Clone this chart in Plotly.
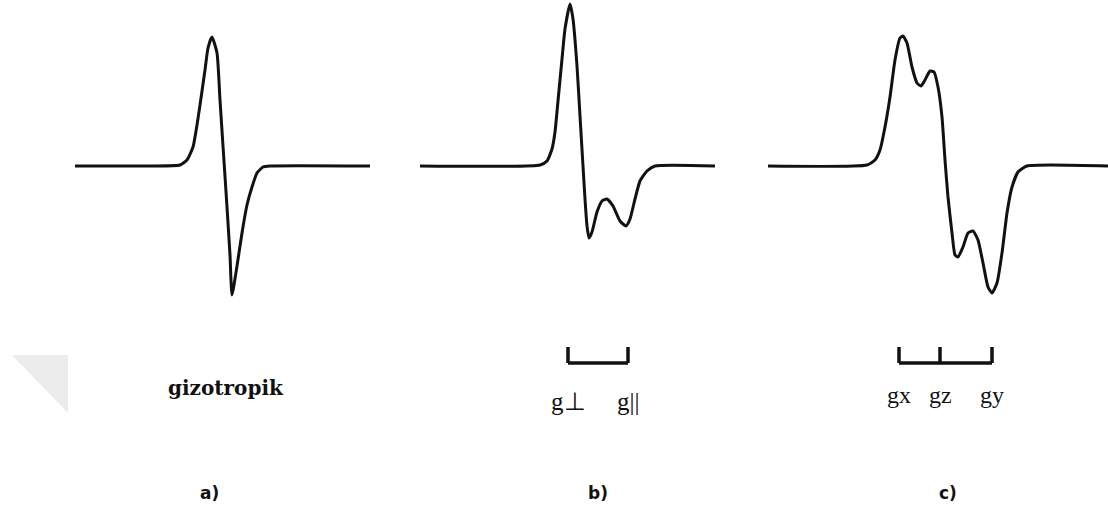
import plotly.graph_objects as go

# ---- data: field offset (relative to panel centre) and signal amplitude (a.u.) ----
field_a = [-147, -72, -42, -35, -29, -25, -22, -17, -14, -10, -5, -2, 1, 5, 8, 10, 15, 20, 25, 30, 35, 41, 48, 148]
signal_a = [0, 0, 1, 6, 19, 41, 61, 96, 118, 129, 113, 66, 20, -41, -89, -129, -100, -67, -39, -21, -7, -1, 0, 0]

field_b = [-160, -40, -33, -28, -25, -22, -18, -15, -10, -7, -3, 0, 3, 5, 7, 9, 12, 17, 22, 27, 33, 40, 46, 50, 55, 60, 67, 75, 135]
signal_b = [0, 1, 5, 17, 34, 65, 107, 137, 162, 147, 100, 50, 0, -33, -60, -72, -66, -46, -35, -33, -40, -55, -60, -53, -33, -15, -5, 0, 0]

field_c = [-177, -78, -70, -65, -60, -55, -50, -45, -42, -38, -33, -28, -24, -20, -15, -11, -7, -3, 0, 3, 7, 10, 13, 18, 23, 28, 33,
           38, 43, 47, 52, 57, 62, 67, 73, 82, 163]
signal_c = [0, 1, 6, 16, 39, 69, 106, 128, 130, 123, 99, 83, 80, 86, 95, 94, 79, 49, 6, -31, -67, -89, -91, -81, -67, -65, -74,
            -97, -121, -127, -117, -87, -47, -21, -6, 0, 0]

# g-value marker positions (field offsets)
g_b = [-12, 48]
g_b_labels = ["g⊥", "g||"]
g_c = [-46, -5, 47]
g_c_labels = ["gx", "gz", "gy"]

panel_labels = ["a)", "b)", "c)"]
iso_label = "gizotropik"

# ---- layout geometry ----
W, H = 1108, 511
centers = [222, 580, 945]          # panel centre (px)
baseline_px = 166
y_range = [baseline_px - H, baseline_px]
bracket_top, bracket_bot = -181, -197

fig = go.Figure()
line_style = dict(color="#111111", width=3, shape="spline", smoothing=0.5)

axes = ["x", "x2", "x3"]
for ax, fx, sy in zip(axes, [field_a, field_b, field_c], [signal_a, signal_b, signal_c]):
    fig.add_trace(go.Scatter(x=fx, y=sy, mode="lines", line=line_style, xaxis=ax, yaxis="y",
                             hoverinfo="skip", showlegend=False))


def bracket(ax, gs):
    fig.add_trace(go.Scatter(x=[gs[0], gs[-1]], y=[bracket_bot, bracket_bot], mode="lines",
                             line=dict(color="#111111", width=3.5), xaxis=ax, yaxis="y",
                             hoverinfo="skip", showlegend=False))
    for g in gs:
        fig.add_trace(go.Scatter(x=[g, g], y=[bracket_top, bracket_bot], mode="lines",
                                 line=dict(color="#111111", width=3.5), xaxis=ax, yaxis="y",
                                 hoverinfo="skip", showlegend=False))


bracket("x2", g_b)
bracket("x3", g_c)

annotations = []
for g, lab in zip(g_b, g_b_labels):
    annotations.append(dict(x=g, y=-235, xref="x2", yref="y", text=lab, showarrow=False,
                            font=dict(family="Liberation Serif", size=25, color="#111111")))
for g, lab in zip(g_c, g_c_labels):
    annotations.append(dict(x=g, y=-229, xref="x3", yref="y", text=lab, showarrow=False,
                            font=dict(family="Liberation Serif", size=24, color="#111111")))
annotations.append(dict(x=4, y=-222, xref="x", yref="y", text="<b>" + iso_label + "</b>", showarrow=False,
                        font=dict(family="DejaVu Serif", size=20, color="#111111")))
for ax, cx_off, lab in zip(["x", "x2", "x3"], [-13, 18, 3], panel_labels):
    annotations.append(dict(x=cx_off, y=-327, xref=ax, yref="y", text="<b>" + lab + "</b>", showarrow=False,
                            font=dict(family="DejaVu Sans", size=17, color="#111111")))

axis_common = dict(domain=[0, 1], showgrid=False, zeroline=False, showticklabels=False,
                   showline=False, ticks="", fixedrange=True)
layout_axes = {}
for i, (ax, c) in enumerate(zip(axes, centers)):
    key = "xaxis" if i == 0 else f"xaxis{i + 1}"
    d = dict(axis_common, range=[-c, W - c])
    if i > 0:
        d["overlaying"] = "x"
    layout_axes[key] = d

fig.update_layout(
    width=W, height=H,
    margin=dict(l=0, r=0, t=0, b=0),
    paper_bgcolor="white", plot_bgcolor="white",
    yaxis=dict(range=y_range, showgrid=False, zeroline=False, showticklabels=False,
               showline=False, ticks="", fixedrange=True),
    annotations=annotations,
    shapes=[dict(type="path", xref="paper", yref="paper", layer="below",
                 path=f"M {12 / W} {1 - 355 / H} L {68 / W} {1 - 355 / H} L {68 / W} {1 - 413 / H} Z",
                 fillcolor="#ececec", line=dict(width=0))],
    showlegend=False,
    **layout_axes,
)

fig.write_html("out.html", config={"displayModeBar": False})
